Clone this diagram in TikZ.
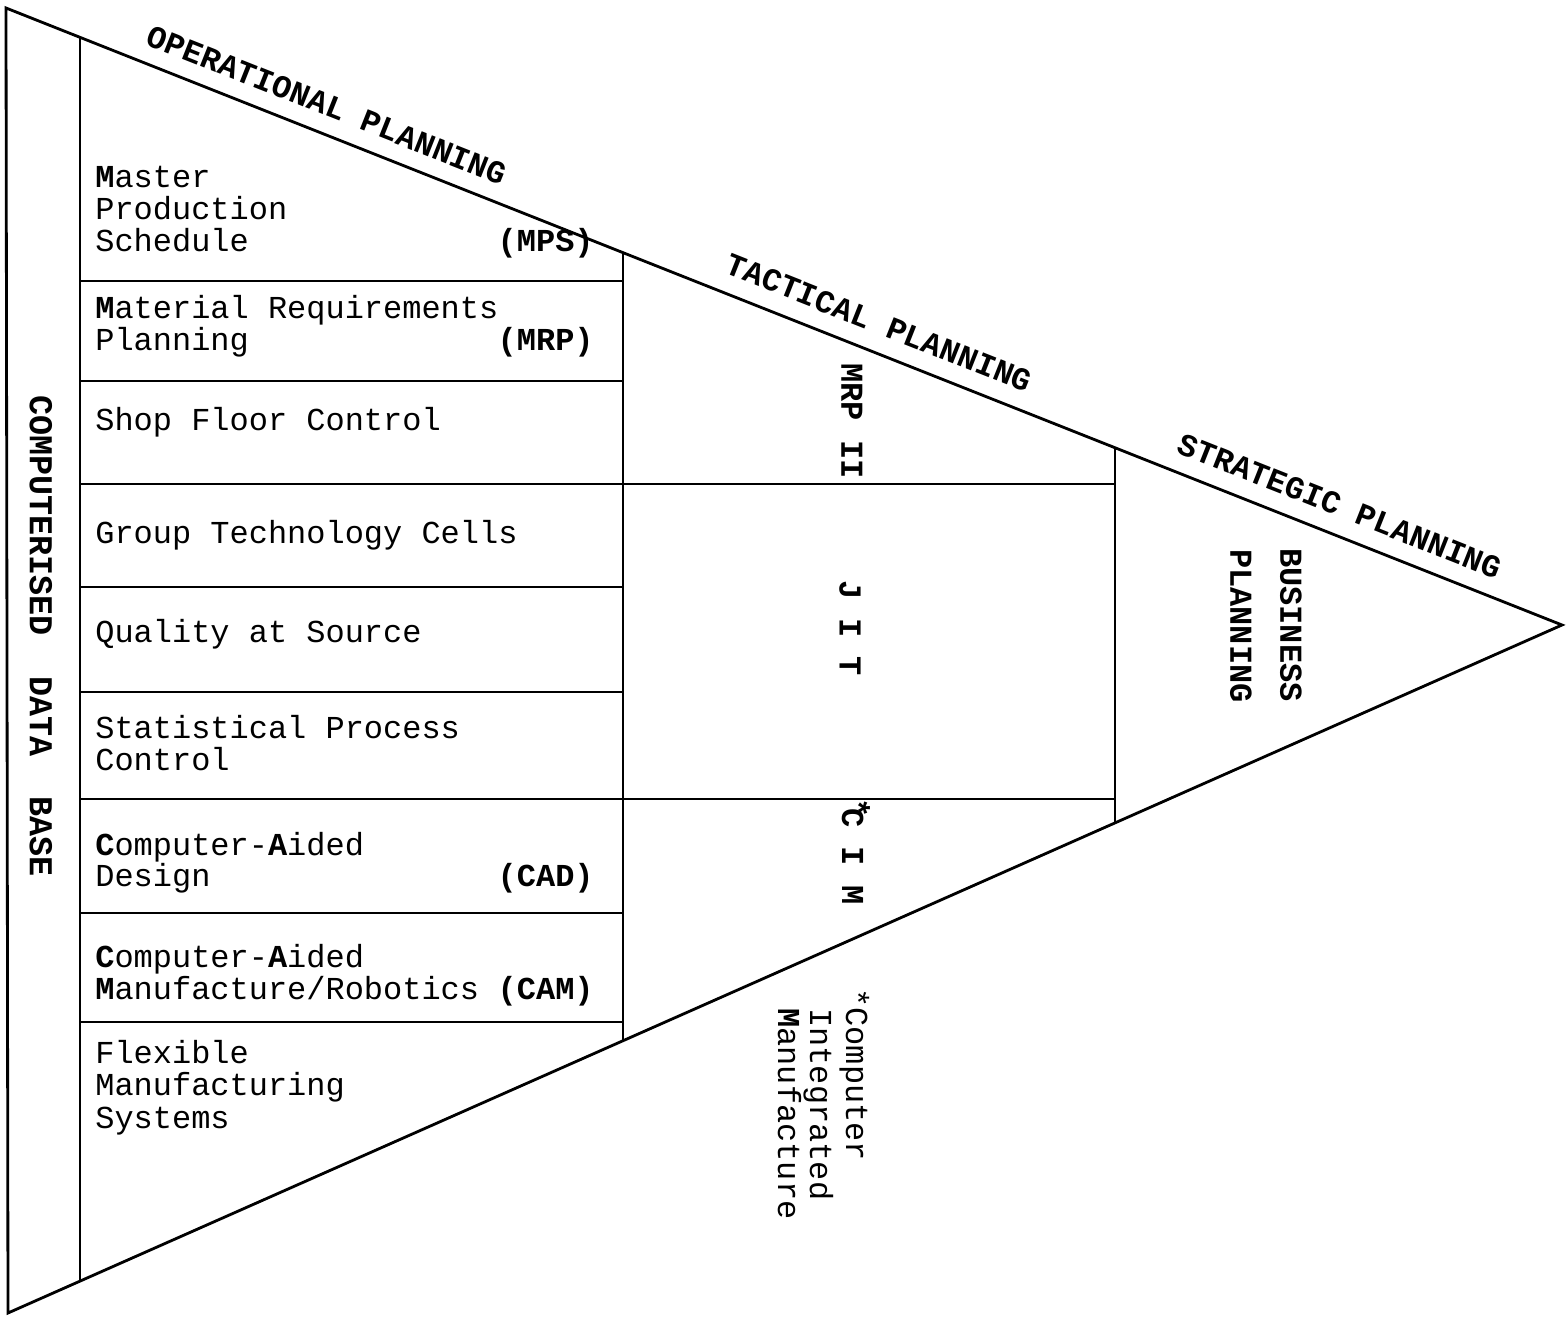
\documentclass[tikz,border=0pt]{standalone}
\usepackage{fontspec}
\setmonofont{Liberation Mono}
\begin{document}
\begin{tikzpicture}[x=0.02cm, y=-0.02cm,
  font=\ttfamily\fontsize{18.2pt}{18.2pt}\selectfont,
  outline/.style={line width=1.6pt, line join=miter},
  rule/.style={line width=1.1pt},
  item/.style={anchor=base west, inner sep=0pt},
  abbr/.style={anchor=base east, inner sep=0pt, font=\ttfamily\bfseries\fontsize{18.2pt}{18.2pt}\selectfont},
  vbold/.style={rotate=-90, inner sep=0pt, font=\ttfamily\bfseries\fontsize{18.2pt}{18.2pt}\selectfont},
  vnote/.style={rotate=-90, anchor=base west, inner sep=0pt},
  level/.style={rotate=-21.63, inner sep=0pt, font=\ttfamily\bfseries\fontsize{18.2pt}{18.2pt}\selectfont}]

\useasboundingbox (0,0) rectangle (1568,1317);

% triangle corners
\coordinate (TL) at (6,8);
\coordinate (AP) at (1562,625);
\coordinate (BL) at (8,1313);

% ends of the three inner vertical dividers on the slanted edges
\coordinate (d1t) at (80,37.3);    \coordinate (d1b) at (80,1281.1);
\coordinate (d2t) at (623,252.7);  \coordinate (d2b) at (623,1040.7);
\coordinate (d3t) at (1115,447.7); \coordinate (d3b) at (1115,822.9);

\draw[outline] (TL) -- (AP) -- (BL) -- cycle;
\draw[rule] (d1t) -- (d1b);
\draw[rule] (d2t) -- (d2b);
\draw[rule] (d3t) -- (d3b);

% horizontal rules of the operational column
\foreach \yy in {281,381,587,692,913,1022}
  \draw[rule] (80,\yy) -- (623,\yy);
% rules that continue into the tactical column
\draw[rule] (80,484) -- (d3t |- 0,484);
\draw[rule] (80,799) -- (d3t |- 0,799);

% level labels along the upper edge
\node[level] (lop) at (327,105) {OPERATIONAL PLANNING};
\node[level] (ltac) at (879,323) {TACTICAL PLANNING};
\node[level] (lstr) at (1340,506) {STRATEGIC PLANNING};

% data base column
\node[vbold, font=\ttfamily\bfseries\fontsize{19pt}{19pt}\selectfont] (cdb) at (41,636) {COMPUTERISED~~DATA~~BASE};

% operational activities
\node[item] (mps1) at (95,188) {\textbf{M}aster};
\node[item] (mps2) at (95,220) {Production};
\node[item] (mps3) at (95,252) {Schedule};
\node[abbr] (mps) at (594,252) {(MPS)};

\node[item] (mrp1) at (95,319) {\textbf{M}aterial Requirements};
\node[item] (mrp2) at (95,351) {Planning};
\node[abbr] (mrp) at (594,351) {(MRP)};

\node[item] (sfc) at (95,431) {Shop Floor Control};
\node[item] (gtc) at (95,543) {Group Technology Cells};
\node[item] (qas) at (95,642) {Quality at Source};

\node[item] (spc1) at (95,738) {Statistical Process};
\node[item] (spc2) at (95,770) {Control};

\node[item] (cad1) at (95,855) {\textbf{C}omputer-\textbf{A}ided};
\node[item] (cad2) at (95,886) {Design};
\node[abbr] (cad) at (594,886) {(CAD)};

\node[item] (cam1) at (95,967) {\textbf{C}omputer-\textbf{A}ided};
\node[item] (cam2) at (95,999) {\textbf{M}anufacture/Robotics};
\node[abbr] (cam) at (594,999) {(CAM)};

\node[item] (fms1) at (95,1063) {Flexible};
\node[item] (fms2) at (95,1095) {Manufacturing};
\node[item] (fms3) at (95,1128) {Systems};

% tactical column
\node[vbold] (mrpii) at (852,421) {MRP II};
\node[vbold] (jit) at (850,628) {J I T};
\node[vbold, anchor=base west] (cim) at (842,808) {\llap{\raisebox{0.15em}{*}\kern-0.3em}C I M};

% strategic column
\node[vbold] (bus1) at (1291,625) {BUSINESS};
\node[vbold] (bus2) at (1241,626) {PLANNING};

% footnote
\node[vnote] (fn1) at (846,988) {*Computer};
\node[vnote] (fn2) at (810,1008) {Integrated};
\node[vnote] (fn3) at (778,1008) {\textbf{M}anufacture};

\end{tikzpicture}
\end{document}
